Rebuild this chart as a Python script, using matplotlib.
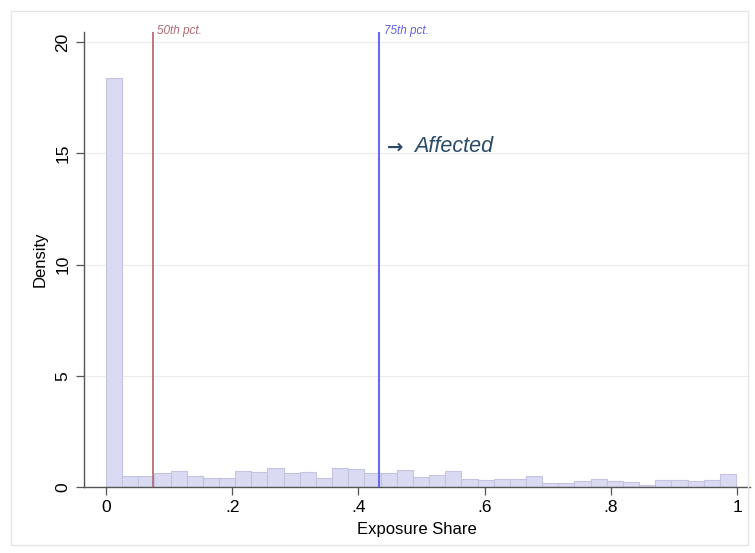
import matplotlib
import matplotlib.pyplot as plt
import numpy as np
from matplotlib.patches import Rectangle

matplotlib.use("Agg")
plt.rcParams["font.family"] = ["Liberation Sans", "DejaVu Sans"]

# histogram of exposure share (density per bin)
bin_width = 0.0256
densities = [
    18.4, 0.49, 0.49, 0.63, 0.75, 0.52, 0.42, 0.42, 0.75, 0.69,
    0.85, 0.66, 0.69, 0.42, 0.85, 0.82, 0.63, 0.64, 0.79, 0.48,
    0.57, 0.75, 0.36, 0.33, 0.39, 0.39, 0.51, 0.18, 0.21, 0.28,
    0.36, 0.30, 0.25, 0.12, 0.34, 0.34, 0.30, 0.33, 0.58,
]
p50 = 0.0746
p75 = 0.433

x_ticks = [0, 0.2, 0.4, 0.6, 0.8, 1.0]
x_tick_labels = ["0", ".2", ".4", ".6", ".8", "1"]
y_ticks = [0, 5, 10, 15, 20]

fig = plt.figure(figsize=(7.55, 5.53), dpi=100)
fig.patches.append(Rectangle((0.014, 0.015), 0.977, 0.966, transform=fig.transFigure,
                             fill=False, edgecolor="#e6e6e6", linewidth=1.0))
ax = fig.add_axes([0.111, 0.119, 0.882, 0.823])

lefts = np.arange(len(densities)) * bin_width
ax.bar(lefts, densities, width=bin_width, align="edge",
       color="#dadaf2", edgecolor="#c4c4e2", linewidth=0.8, zorder=2)

ax.axvline(p50, color="#b07078", linewidth=1.3, zorder=3)
ax.axvline(p75, color="#6b6bf0", linewidth=1.5, zorder=3)
ax.text(p50 + 0.007, 20.25, "50th pct.", color="#b06a72", fontsize=8.5,
        style="italic", va="bottom", ha="left")
ax.text(p75 + 0.007, 20.25, "75th pct.", color="#6060e8", fontsize=8.5,
        style="italic", va="bottom", ha="left")
ax.text(p75 + 0.012, 15.3, "\u2192", color="#2a4a6a", fontsize=14,
        fontweight="bold", family="DejaVu Sans", va="center", ha="left")
ax.text(p75 + 0.056, 15.3, "Affected", color="#2a4a6a", fontsize=15.5,
        style="italic", va="center", ha="left")

ax.set_xlim(-0.035, 1.02)
ax.set_ylim(0, 20.45)
ax.set_xticks(x_ticks)
ax.set_xticklabels(x_tick_labels)
ax.set_yticks(y_ticks)
ax.tick_params(axis="y", labelrotation=90, length=6, width=0.9, color="#555555",
               labelsize=12.5)
ax.tick_params(axis="x", length=6, width=0.9, color="#555555", labelsize=12.5)
for label in ax.get_yticklabels():
    label.set_va("center")
ax.grid(axis="y", color="#ececec", linewidth=0.8, zorder=0)
ax.set_axisbelow(True)

for side in ("top", "right"):
    ax.spines[side].set_visible(False)
for side in ("left", "bottom"):
    ax.spines[side].set_color("#555555")
    ax.spines[side].set_linewidth(1.0)

ax.set_xlabel("Exposure Share", fontsize=12, labelpad=5)
ax.set_ylabel("Density", fontsize=12, labelpad=6)

fig.savefig("out.png", dpi=100)
plt.close(fig)
